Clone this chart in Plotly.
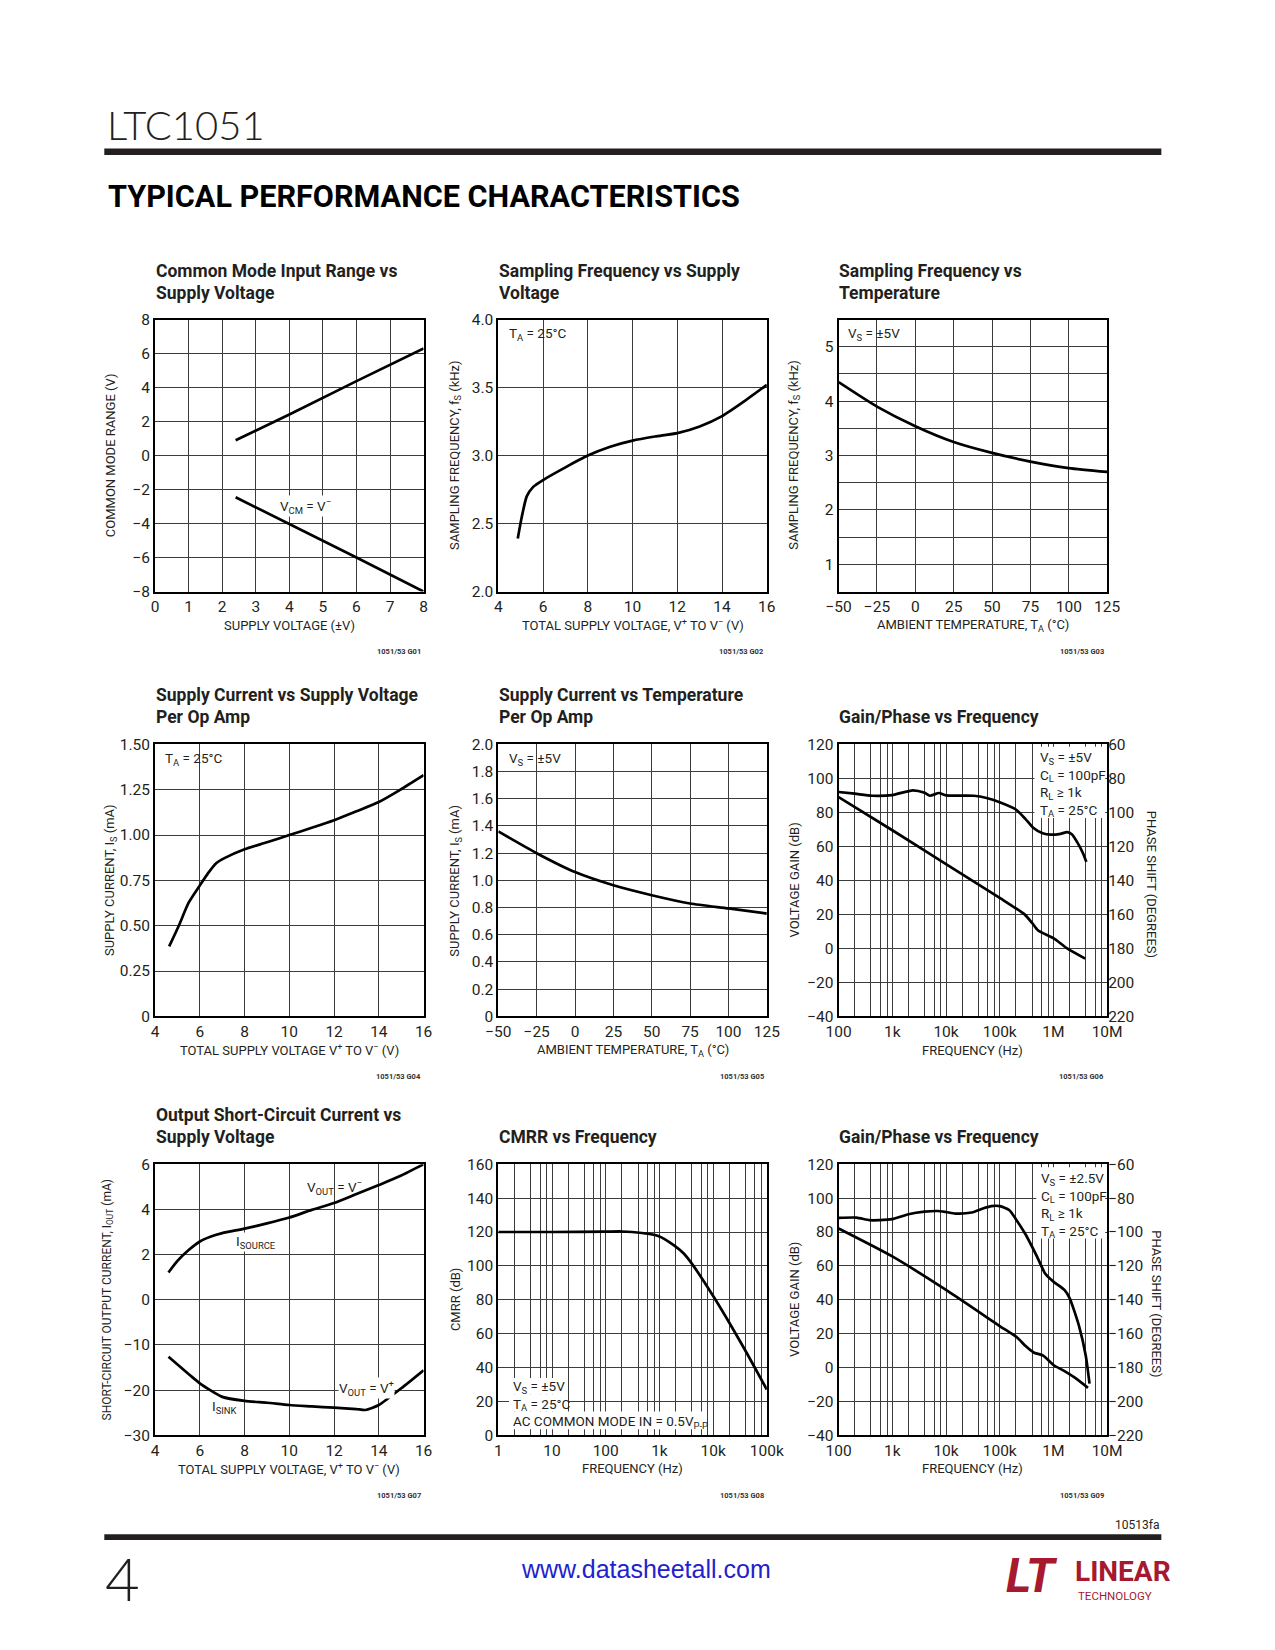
import plotly.graph_objects as go

W, H = 1275, 1650
FONT = "Roboto, Liberation Sans, sans-serif"
INK = "#231f20"
MINUS = "\u2212"

# ---------------- data ----------------
# G01 Common mode input range vs supply voltage
cmr_vs = [2.4, 4.0, 6.0, 8.0]
cmr_upper = [0.9, 2.42, 4.38, 6.3]
cmr_lower = [-2.45, -4.02, -6.0, -8.0]

# G02 Sampling frequency vs supply voltage
fsv_v = [4.87, 5.05, 5.27, 5.56, 6.0, 7.02, 8.0, 9.0, 10.0, 11.0, 12.0, 13.0, 14.0, 15.0, 16.0]
fsv_f = [2.39, 2.55, 2.70, 2.77, 2.82, 2.915, 3.0, 3.065, 3.11, 3.14, 3.165, 3.214, 3.29, 3.40, 3.52]

# G03 Sampling frequency vs temperature
fst_t = [-50, -25, 0, 25, 50, 75, 100, 125]
fst_f = [4.35, 3.90, 3.54, 3.25, 3.05, 2.89, 2.77, 2.70]

# G04 Supply current vs supply voltage
isv_v = [4.63, 5.06, 5.5, 6.0, 6.37, 6.73, 7.1, 8.0, 9.0, 10.0, 11.0, 12.0, 13.0, 14.0, 14.95, 16.0]
isv_i = [0.386, 0.50, 0.627, 0.722, 0.79, 0.845, 0.873, 0.922, 0.96, 1.0, 1.04, 1.082, 1.131, 1.182, 1.249, 1.33]

# G05 Supply current vs temperature
ist_t = [-50, -25, 0, 25, 50, 75, 100, 125]
ist_i = [1.36, 1.2, 1.061, 0.964, 0.891, 0.83, 0.794, 0.756]

# G06 Gain/phase vs frequency, Vs = +/-5V
g6_gain_f = [100, 1000, 10000, 100000, 290000, 400000, 520000, 1000000, 1800000, 3900000]
g6_gain_db = [89, 69.5, 49.6, 29.7, 20, 15, 10.5, 6, 0, -6]
g6_ph_f = [100, 200, 420, 1000, 2400, 4000, 5000, 7400, 10000, 33000, 57000, 100000, 200000,
           300000, 420000, 630000, 900000, 1350000, 1800000, 2200000, 2800000, 3500000, 4100000]
g6_ph_deg = [88.0, 89.0, 90.2, 89.8, 87.0, 88.5, 90.2, 88.6, 90.0, 90.2, 91.5, 94.0, 98.3,
             103.8, 109.0, 112.3, 113.1, 112.6, 111.6, 112.9, 117.8, 123.6, 129.1]

# G07 Output short-circuit current vs supply voltage
sc_src_v = [4.6, 5.0, 5.5, 6.0, 6.5, 7.0, 8.0, 9.0, 10.0, 11.0, 12.0, 13.0, 14.0, 15.0, 16.0]
sc_src_ma = [1.21, 1.72, 2.2, 2.58, 2.8, 2.95, 3.15, 3.38, 3.64, 3.98, 4.28, 4.68, 5.08, 5.5, 6.0]
sc_snk_v = [4.6, 5.56, 6.0, 7.0, 8.0, 9.0, 10.0, 11.0, 12.0, 13.0, 13.4, 14.0, 15.0, 16.0]
sc_snk_ma = [-12.6, -16.7, -18.5, -21.5, -22.4, -22.8, -23.3, -23.6, -23.9, -24.2, -24.4, -23.3, -19.6, -15.6]

# G08 CMRR vs frequency
cm_f = [1, 10, 100, 200, 470, 950, 1900, 2900, 4300, 10300, 22000, 42000, 100000]
cm_db = [120, 120, 120.2, 120.3, 119.4, 117.7, 112, 107, 100, 81.6, 64.2, 48.7, 27]

# G09 Gain/phase vs frequency, Vs = +/-2.5V
g9_gain_f = [100, 1000, 10000, 100000, 211000, 300000, 427000, 646000, 1000000, 1580000, 2500000, 4400000]
g9_gain_db = [82.1, 65.6, 45.8, 24.5, 17.7, 12.8, 8.9, 7.0, 1.5, -2.0, -6.0, -12.0]
g9_ph_f = [100, 215, 375, 570, 1000, 2000, 4000, 7000, 10000, 15000, 30000, 50000, 70000, 100000,
           150000, 200000, 300000, 500000, 700000, 1000000, 1600000, 2000000, 3000000, 4000000, 4700000]
g9_ph_deg = [-91.7, -91.5, -93.0, -93.0, -92.4, -89.5, -88.0, -87.6, -88.2, -89.1, -88.5, -86.0, -84.7, -84.7,
             -87.0, -92.4, -101.2, -114.8, -124.5, -129.3, -134.2, -139.0, -155.5, -173.0, -189.5]

# tick labels / grid
lin_08 = list(range(0, 9))
lin_m8_8 = list(range(-8, 9, 2))
volt_4_16 = list(range(4, 17, 2))
temp_ticks = [-50, -25, 0, 25, 50, 75, 100, 125]
fs_ticks = [2.0, 2.5, 3.0, 3.5, 4.0]
fst_ticks = [1, 2, 3, 4, 5]
fst_minor = [0.5, 1.5, 2.5, 3.5, 4.5, 5.5]
is_ticks = [0, 0.25, 0.5, 0.75, 1.0, 1.25, 1.5]
is_labels = ["0", "0.25", "0.50", "0.75", "1.00", "1.25", "1.50"]
ist_ticks = [0, 0.2, 0.4, 0.6, 0.8, 1.0, 1.2, 1.4, 1.6, 1.8, 2.0]
ist_labels = ["0", "0.2", "0.4", "0.6", "0.8", "1.0", "1.2", "1.4", "1.6", "1.8", "2.0"]
gain_ticks = list(range(-40, 121, 20))
ph6_ticks = list(range(60, 221, 20))
ph9_ticks = list(range(-220, -59, 20))
cmrr_ticks = list(range(0, 161, 20))
sc_labels_ma = [-30, -20, -10, 0, 2, 4, 6]
freq_names = {1: "1", 10: "10", 100: "100", 1000: "1k", 10000: "10k", 100000: "100k",
              1000000: "1M", 10000000: "10M"}


def neg(v):
    return f"{v:g}".replace("-", MINUS)


def sc_scale(v):
    # this chart's axis is 2 mA/div above zero and 10 mA/div below zero
    return v / 2.0 if v >= 0 else v / 10.0


def decades(d0, d1):
    return [10 ** d for d in range(d0, d1 + 1)]


def log_minor(d0, d1):
    return [m * 10 ** d for d in range(d0, d1) for m in (2, 4, 6, 8)]


# ---------------- layout geometry (px) ----------------
COLS = [(145.5, 420.5), (497, 772), (845.5, 1120.5)]
ROWS = [(314, 589), (743.5, 1018.5), (1168, 1442)]


def box(i):
    c = COLS[(i - 1) % 3]
    r = ROWS[(i - 1) // 3]
    return c[0], r[0], c[1], r[1]


def X(px):
    return px / W


def Y(py):
    return 1 - py / H


fig = go.Figure()
layout = dict(width=W, height=H, margin=dict(l=0, r=0, t=0, b=0),
              paper_bgcolor="white", plot_bgcolor="white", showlegend=False,
              hovermode=False)

GRID = "#3c3c3c"
TICKFONT = dict(family=FONT, size=15.5, color=INK)
common = dict(showline=True, mirror=True, linecolor="black", linewidth=2,
              showgrid=True, gridcolor=GRID, gridwidth=1.3, zeroline=False,
              ticks="", tickfont=TICKFONT, fixedrange=True)


def set_axes(i, xcfg, ycfg):
    l, t, r, b = box(i)
    xa = dict(common)
    xa.update(domain=[X(l), X(r)], anchor=f"y{i}")
    xa.update(xcfg)
    ya = dict(common)
    ya.update(domain=[Y(b), Y(t)], anchor=f"x{i}")
    ya.update(ycfg)
    layout[f"xaxis{i}"] = xa
    layout[f"yaxis{i}"] = ya


def arr(vals, labels, minor=None):
    d = dict(tickmode="array", tickvals=vals, ticktext=labels)
    if minor:
        d["minor"] = dict(tickmode="array", tickvals=minor, showgrid=True,
                          gridcolor=GRID, gridwidth=1.3, ticks="")
    return d


# chart 1
set_axes(1, dict(range=[0, 8], **arr(lin_08, [str(v) for v in lin_08])),
         dict(range=[-8, 8], **arr(lin_m8_8, [neg(v) for v in lin_m8_8])))
# chart 2
set_axes(2, dict(range=[4, 16], **arr(volt_4_16, [str(v) for v in volt_4_16])),
         dict(range=[2, 4], **arr(fs_ticks, [f"{v:.1f}" for v in fs_ticks])))
# chart 3
set_axes(3, dict(range=[-50, 125], **arr(temp_ticks, [neg(v) for v in temp_ticks])),
         dict(range=[0.5, 5.5], **arr(fst_ticks, [str(v) for v in fst_ticks], fst_minor)))
# chart 4
set_axes(4, dict(range=[4, 16], **arr(volt_4_16, [str(v) for v in volt_4_16])),
         dict(range=[0, 1.5], **arr(is_ticks, is_labels)))
# chart 5
set_axes(5, dict(range=[-50, 125], **arr(temp_ticks, [neg(v) for v in temp_ticks])),
         dict(range=[0, 2.0], **arr(ist_ticks, ist_labels)))
# chart 6
g6_dec = decades(2, 7)
set_axes(6, dict(type="log", range=[2, 7], **arr(g6_dec, [freq_names[v] for v in g6_dec], log_minor(2, 7))),
         dict(range=[-40, 120], **arr(gain_ticks, [neg(v) for v in gain_ticks])))
layout["yaxis10"] = dict(overlaying="y6", side="right", anchor="x6", range=[220, 60],
                         tickmode="array", tickvals=ph6_ticks, ticktext=[str(v) for v in ph6_ticks],
                         showgrid=False, showline=False, zeroline=False, ticks="",
                         tickfont=TICKFONT, fixedrange=True)
# chart 7
sc_pos = [sc_scale(v) for v in sc_labels_ma]
set_axes(7, dict(range=[4, 16], **arr(volt_4_16, [str(v) for v in volt_4_16])),
         dict(range=[-3, 3], **arr(sc_pos, [neg(v) for v in sc_labels_ma])))
# chart 8
g8_dec = decades(0, 5)
set_axes(8, dict(type="log", range=[0, 5], **arr(g8_dec, [freq_names[v] for v in g8_dec], log_minor(0, 5))),
         dict(range=[0, 160], **arr(cmrr_ticks, [str(v) for v in cmrr_ticks])))
# chart 9
set_axes(9, dict(type="log", range=[2, 7], **arr(g6_dec, [freq_names[v] for v in g6_dec], log_minor(2, 7))),
         dict(range=[-40, 120], **arr(gain_ticks, [neg(v) for v in gain_ticks])))
layout["yaxis11"] = dict(overlaying="y9", side="right", anchor="x9", range=[-220, -60],
                         tickmode="array", tickvals=ph9_ticks, ticktext=[neg(v) for v in ph9_ticks],
                         showgrid=False, showline=False, zeroline=False, ticks="",
                         tickfont=TICKFONT, fixedrange=True)


def line(x, y, xa, ya, spline=True):
    fig.add_trace(go.Scatter(x=x, y=y, xaxis=xa, yaxis=ya, mode="lines",
                             line=dict(color="black", width=2.7,
                                       shape="spline" if spline else "linear", smoothing=0.6),
                             hoverinfo="skip"))


line(cmr_vs, cmr_upper, "x1", "y1", spline=False)
line(cmr_vs, cmr_lower, "x1", "y1", spline=False)
line(fsv_v, fsv_f, "x2", "y2")
line(fst_t, fst_f, "x3", "y3")
line(isv_v, isv_i, "x4", "y4")
line(ist_t, ist_i, "x5", "y5")
line(g6_gain_f, g6_gain_db, "x6", "y6")
line(g6_ph_f, g6_ph_deg, "x6", "y10")
line(sc_src_v, [sc_scale(v) for v in sc_src_ma], "x7", "y7")
line(sc_snk_v, [sc_scale(v) for v in sc_snk_ma], "x7", "y7")
line(cm_f, cm_db, "x8", "y8")
line(g9_gain_f, g9_gain_db, "x9", "y9")
line(g9_ph_f, g9_ph_deg, "x9", "y11")

ann = []
shapes = []


def txt(px, py, text, size=13.5, xanchor="left", yanchor="middle", weight="normal",
        bg=None, angle=0, color=INK, family=FONT, pad=1, align="left"):
    d = dict(x=X(px), y=Y(py), xref="paper", yref="paper", text=text, showarrow=False,
             xanchor=xanchor, yanchor=yanchor, textangle=angle, borderpad=pad, align=align,
             font=dict(family=family, size=size, color=color, weight=weight))
    if bg:
        d["bgcolor"] = bg
    ann.append(d)


def white(x0, y0, x1, y1):
    shapes.append(dict(type="rect", xref="paper", yref="paper", x0=X(x0), x1=X(x1),
                       y0=Y(y1), y1=Y(y0), fillcolor="white", line=dict(width=0), layer="above"))


# ---- page header ----
txt(94, 117.5, "LTC1051", size=40, family="Lato, Noto Sans, sans-serif", weight=300)
txt(95, 189.5, "TYPICAL PERFORMANCE CHARACTERISTICS", size=30.6, weight="bold", color="#000000")

# ---- chart titles ----
TS = 17.5
titles = {
    1: ["Common Mode Input Range vs", "Supply Voltage"],
    2: ["Sampling Frequency vs Supply", "Voltage"],
    3: ["Sampling Frequency vs", "Temperature"],
    4: ["Supply Current vs Supply Voltage", "Per Op Amp"],
    5: ["Supply Current vs Temperature", "Per Op Amp"],
    6: ["Gain/Phase vs Frequency"],
    7: ["Output Short-Circuit Current vs", "Supply Voltage"],
    8: ["CMRR vs Frequency"],
    9: ["Gain/Phase vs Frequency"],
}
baselines = [(270.7, 293.3), (700, 721.7), (1124, 1146.7)]
for i, lines in titles.items():
    l, t, r, b = box(i)
    b1, b2 = baselines[(i - 1) // 3]
    bl = [b2] if len(lines) == 1 else [b1, b2]
    for txt_line, base in zip(lines, bl):
        txt(l - 1.5, base - 0.36 * TS, txt_line, size=TS, weight="bold")

# ---- axis titles ----
AS = 13
xtitles = {
    1: "SUPPLY VOLTAGE (±V)",
    2: "TOTAL SUPPLY VOLTAGE, V<sup>+</sup> TO V<sup>" + MINUS + "</sup> (V)",
    3: "AMBIENT TEMPERATURE, T<sub>A</sub> (°C)",
    4: "TOTAL SUPPLY VOLTAGE V<sup>+</sup> TO V<sup>" + MINUS + "</sup> (V)",
    5: "AMBIENT TEMPERATURE, T<sub>A</sub> (°C)",
    6: "FREQUENCY (Hz)",
    7: "TOTAL SUPPLY VOLTAGE, V<sup>+</sup> TO V<sup>" + MINUS + "</sup> (V)",
    8: "FREQUENCY (Hz)",
    9: "FREQUENCY (Hz)",
}
ytitles = {
    1: ("COMMON MODE RANGE (V)", 100, AS),
    2: ("SAMPLING FREQUENCY, f<sub>S</sub> (kHz)", 453, AS),
    3: ("SAMPLING FREQUENCY, f<sub>S</sub> (kHz)", 800, AS),
    4: ("SUPPLY CURRENT, I<sub>S</sub> (mA)", 100, AS),
    5: ("SUPPLY CURRENT, I<sub>S</sub> (mA)", 453, AS),
    6: ("VOLTAGE GAIN (dB)", 800, AS),
    7: ("SHORT-CIRCUIT OUTPUT CURRENT, I<sub>OUT</sub> (mA)", 97, 12),
    8: ("CMRR (dB)", 453, AS),
    9: ("VOLTAGE GAIN (dB)", 801, AS),
}
for i in range(1, 10):
    l, t, r, b = box(i)
    txt((l + r) / 2, b + 34, xtitles[i], size=AS, xanchor="center")
    ytxt, yx, ys = ytitles[i]
    txt(yx, (t + b) / 2, ytxt, size=ys, xanchor="center", angle=-90)
    txt(r - 1, b + 61, f"1051/53 G0{i}", size=7.5, xanchor="right", weight="bold", color="#333333")

# right-hand phase axis titles (read top to bottom)
txt(1166, (box(6)[1] + box(6)[3]) / 2 + 4, "PHASE SHIFT (DEGREES)", size=AS, xanchor="center", angle=90)
txt(1171, (box(9)[1] + box(9)[3]) / 2 + 4, "PHASE SHIFT (DEGREES)", size=AS, xanchor="center", angle=90)

# ---- in-plot labels ----
IS = 13.5
txt(299.5, 502, "V<sub>CM</sub> = V<sup>" + MINUS + "</sup>", size=IS, xanchor="center", bg="white", pad=0)
txt(506, 329, "T<sub>A</sub> = 25°C", size=IS)
txt(853, 329, "V<sub>S</sub> = ±5V", size=IS)
txt(154, 758, "T<sub>A</sub> = 25°C", size=IS)
txt(506, 758, "V<sub>S</sub> = ±5V", size=IS)

# chart 7 labels
txt(329.5, 1191, "V<sub>OUT</sub> = V<sup>" + MINUS + "</sup>", size=IS, xanchor="center")
txt(249, 1247, "I<sub>SOURCE</sub>", size=IS, xanchor="center", bg="white", pad=0)
txt(216.5, 1413, "I<sub>SINK</sub>", size=IS, xanchor="center")
txt(362.5, 1394, "V<sub>OUT</sub> = V<sup>+</sup>", size=IS, xanchor="center", bg="white", pad=0)

# chart 8 condition block: per-line white backing, one text block
white(508, 1384, 563, 1401)
white(508, 1401, 568, 1418)
white(508, 1418, 706, 1436)
txt(510, 1410.5, "V<sub>S</sub> = ±5V<br>T<sub>A</sub> = 25°C<br>AC COMMON MODE IN = 0.5V<sub>P-P</sub>",
    size=IS)

# white condition boxes for the gain/phase charts
white(1046, 746, 1118.5, 818)
white(1048, 1171, 1118.5, 1243)
txt(1050, 784, "V<sub>S</sub> = ±5V<br>C<sub>L</sub> = 100pF<br>R<sub>L</sub> ≥ 1k<br>T<sub>A</sub> = 25°C", size=IS)
txt(1051, 1209, "V<sub>S</sub> = ±2.5V<br>C<sub>L</sub> = 100pF<br>R<sub>L</sub> ≥ 1k<br>T<sub>A</sub> = 25°C", size=IS)

# ---- page rules ----
shapes.append(dict(type="rect", xref="paper", yref="paper", x0=X(93.5), x1=X(1176),
                   y0=Y(147.5), y1=Y(141), fillcolor="#231f20", line=dict(width=0)))
shapes.append(dict(type="rect", xref="paper", yref="paper", x0=X(93.5), x1=X(1176),
                   y0=Y(1548), y1=Y(1542), fillcolor="#231f20", line=dict(width=0)))

# ---- page footer ----
txt(1176, 1533, "10513fa", size=12, xanchor="right")
txt(92, 1586, "4", size=60, family="Lato, Noto Sans, sans-serif", weight=300)
txt(648, 1577, "www.datasheetall.com", size=25, xanchor="center",
    family="Liberation Sans, Arial, sans-serif", color="#2222cc")
txt(1044, 1584, "<i>LT</i>", size=48, xanchor="center", weight="bold", color="#a6192e")
txt(1086, 1580, "LINEAR", size=28, weight="bold", color="#a6192e")
txt(1089, 1605, "TECHNOLOGY", size=11.5, color="#a6192e")

layout["annotations"] = ann
layout["shapes"] = shapes
fig.update_layout(**layout)
fig.write_html("out.html", config={"displayModeBar": False},
               post_script="document.body.style.margin='0';")
